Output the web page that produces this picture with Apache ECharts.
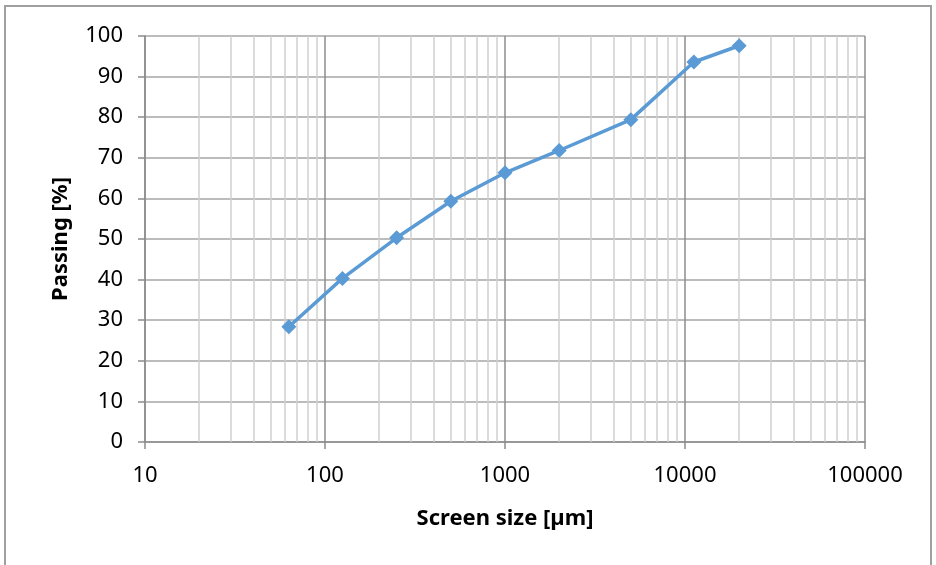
<!DOCTYPE html>
<html>
<head>
<meta charset="utf-8">
<script src="https://cdn.jsdelivr.net/npm/echarts@6/dist/echarts.min.js"></script>
<style>
  html, body { margin: 0; padding: 0; background: #fff; }
  #frame {
    position: absolute; left: 4px; top: 5px; width: 928px; height: 600px;
    border: 2px solid #a0a0a0; border-bottom: none; box-sizing: border-box;
  }
  #chart { position: absolute; left: 0; top: 0; width: 936px; height: 565px; }
</style>
</head>
<body>
<div id="frame"></div>
<div id="chart"></div>
<script>
// screen size [µm] and cumulative passing [%]
const sizes = [63, 125, 250, 500, 1000, 2000, 5000, 11200, 20000];
const passing = [28.4, 40.3, 50.3, 59.3, 66.3, 71.8, 79.4, 93.6, 97.6];

// minor log grid lines (2..9 of each decade)
const minorLines = [];
[10, 100, 1000, 10000].forEach(function (d) {
  for (let k = 2; k <= 9; k++) minorLines.push(d * k);
});

const font = "'Noto Sans', sans-serif";

let myChart = echarts.init(document.getElementById("chart"));
myChart.setOption({
  animation: false,
  grid: {
    left: 145,
    right: 71,
    top: 36,
    bottom: 123,
  },
  xAxis: {
    type: "log",
    logBase: 10,
    min: 10,
    max: 100000,
    name: "Screen size [µm]",
    nameLocation: "middle",
    nameGap: 66,
    nameTextStyle: { fontFamily: font, fontSize: 22, fontWeight: "bold", color: "#000" },
    axisLine: { lineStyle: { color: "#8c8c8c", width: 1.5 } },
    axisTick: { show: true, length: 7, lineStyle: { color: "#8c8c8c", width: 1.5 } },
    axisLabel: {
      fontFamily: font, fontSize: 22, color: "#000", margin: 23,
      formatter: function (v) { return String(Math.round(v)); },
    },
    splitLine: { show: true, lineStyle: { color: "#8c8c8c", width: 1.5 } },
  },
  yAxis: {
    type: "value",
    min: 0,
    max: 100,
    interval: 10,
    name: "Passing [%]",
    nameLocation: "middle",
    nameGap: 73,
    nameTextStyle: { fontFamily: font, fontSize: 22, fontWeight: "bold", color: "#000" },
    axisLine: { show: true, lineStyle: { color: "#8c8c8c", width: 1.5 } },
    axisTick: { show: true, length: 7, lineStyle: { color: "#8c8c8c", width: 1.5 } },
    axisLabel: { fontFamily: font, fontSize: 22, color: "#000", margin: 22 },
    splitLine: { show: true, lineStyle: { color: "#a6a6a6", width: 1.5 } },
  },
  series: [
    {
      name: "minor",
      type: "line",
      data: [],
      z: 1,
      silent: true,
      markLine: {
        silent: true,
        symbol: ["none", "none"],
        label: { show: false },
        lineStyle: { color: "#cfcfcf", width: 1.5, type: "solid" },
        data: minorLines.map(function (v) { return { xAxis: v }; }),
      },
    },
    {
      name: "Passing",
      type: "line",
      z: 5,
      data: sizes.map(function (s, i) { return [s, passing[i]]; }),
      symbol: "diamond",
      symbolSize: 15,
      lineStyle: { color: "#5b9bd5", width: 3.5 },
      itemStyle: { color: "#5b9bd5" },
    },
  ],
});
</script>
</body>
</html>
